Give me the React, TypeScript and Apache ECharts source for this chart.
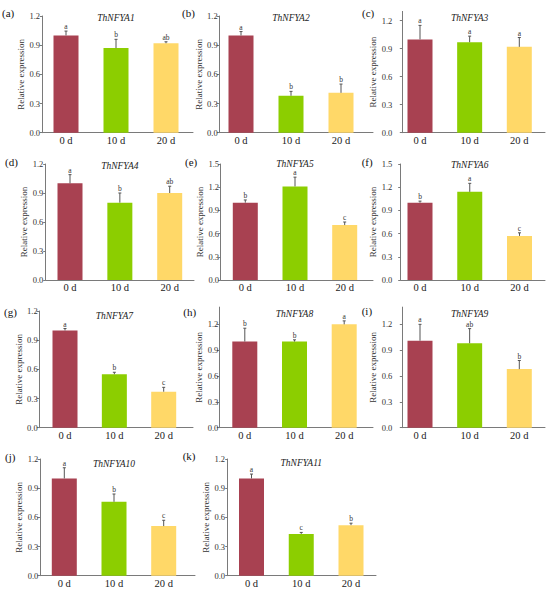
import React, { useEffect, useRef } from 'react';
import * as echarts from 'echarts';

const CATEGORIES = ['0 d', '10 d', '20 d'];
const BAR_COLORS = ['#A84151', '#8CCE00', '#FFD868'];
const GENES = ['ThNFYA1', 'ThNFYA2', 'ThNFYA3', 'ThNFYA4', 'ThNFYA5', 'ThNFYA6', 'ThNFYA7', 'ThNFYA8', 'ThNFYA9', 'ThNFYA10', 'ThNFYA11'];
const PANEL_TAGS = ['(a)', '(b)', '(c)', '(d)', '(e)', '(f)', '(g)', '(h)', '(i)', '(j)', '(k)'];
const MEANS = [
  [1.0, 0.87, 0.92],
  [1.0, 0.38, 0.41],
  [1.0, 0.97, 0.92],
  [1.0, 0.8, 0.9],
  [1.0, 1.21, 0.71],
  [1.0, 1.14, 0.57],
  [1.0, 0.55, 0.37],
  [1.0, 1.0, 1.2],
  [1.01, 0.98, 0.68],
  [1.0, 0.76, 0.51],
  [1.0, 0.43, 0.52],
];
const ERRORS = [
  [0.045, 0.09, 0.015],
  [0.04, 0.045, 0.09],
  [0.15, 0.065, 0.1],
  [0.09, 0.1, 0.07],
  [0.035, 0.12, 0.04],
  [0.02, 0.11, 0.04],
  [0.02, 0.02, 0.045],
  [0.155, 0.02, 0.04],
  [0.19, 0.17, 0.1],
  [0.11, 0.08, 0.06],
  [0.045, 0.015, 0.02],
];
const LETTERS = [
  ['a', 'b', 'ab'],
  ['a', 'b', 'b'],
  ['a', 'a', 'a'],
  ['a', 'b', 'ab'],
  ['b', 'a', 'c'],
  ['b', 'a', 'c'],
  ['a', 'b', 'c'],
  ['b', 'b', 'a'],
  ['a', 'ab', 'b'],
  ['a', 'b', 'c'],
  ['a', 'c', 'b'],
];
const Y_MAX = [1.2, 1.2, 1.3, 1.2, 1.5, 1.5, 1.2, 1.4, 1.4, 1.2, 1.2];
const Y_TICKS_12 = [0, 0.3, 0.6, 0.9, 1.2];
const Y_TICKS_15 = [0, 0.3, 0.6, 0.9, 1.2, 1.5];

// [axisLeft, plotTop, plotBottom, axisRight, firstCenter, lastCenter, nameGap, labelMargin, tagX, tagY, titleY]
const LAYOUT = [
  [42.3, 16, 132.7, 193, 66, 166, 13, 2.3, 2, 12.5, 18.3],
  [219.3, 16, 132.7, 373, 241, 341, 16, 1.6, 182, 12.5, 18.3],
  [402.3, 11.4, 132.7, 545, 420, 519.3, 20, 10, 362, 12.5, 18.3],
  [45.7, 164, 280, 194, 70, 169.7, 14, 2.4, 5, 162.3, 165.7],
  [220.7, 164, 280, 373, 245.3, 344.7, 13, 1.7, 185, 161.7, 164.3],
  [400.7, 164, 280, 545, 420, 519.5, 18, 8.4, 361.7, 161.7, 164.8],
  [39.3, 311, 427.7, 193, 65, 163.7, 13, 1.6, 4, 312.3, 315.7],
  [219.3, 307.1, 427.7, 373, 244.8, 344.2, 12, 1, 183.3, 311.7, 314.3],
  [402.3, 307.1, 427.7, 545, 420, 519.3, 20, 10, 361.7, 311, 314.3],
  [40, 459, 575.7, 195, 64.3, 163.7, 13, 1.7, 5, 456.7, 464],
  [227.7, 459, 575.7, 376, 251.5, 351, 13, 2.7, 182.7, 456, 463.3],
];

const FONT = 'Liberation Serif';
const AXIS_COLOR = '#7a7a7a';
const TEXT_COLOR = '#222';

function buildOption() {
  const grid: any[] = [];
  const xAxis: any[] = [];
  const yAxis: any[] = [];
  const series: any[] = [];
  const graphic: any[] = [];

  GENES.forEach((gene, p) => {
    const [left, top, bottom, right, c0, c2, nameGap, labelMargin, tagX, tagY, titleY] = LAYOUT[p];
    const step = (c2 - c0) / 2;
    grid.push({ left, top, width: right - left, height: bottom - top, containLabel: false });
    xAxis.push({
      type: 'value',
      gridIndex: p,
      min: -(c0 - left) / step,
      max: 2 + (right - c2) / step,
      axisLine: { show: true, onZero: false, lineStyle: { color: AXIS_COLOR, width: 1 } },
      axisTick: { show: false },
      splitLine: { show: false },
      axisLabel: {
        customValues: [0, 1, 2],
        formatter: (v: number) => CATEGORIES[Math.round(v)] ?? '',
        fontFamily: FONT,
        fontSize: 10.5,
        color: TEXT_COLOR,
        margin: 2,
      },
    });
    const ticks = Y_MAX[p] >= 1.5 ? Y_TICKS_15 : Y_TICKS_12;
    yAxis.push({
      type: 'value',
      gridIndex: p,
      min: 0,
      max: Y_MAX[p],
      interval: 0.3,
      name: 'Relative expression',
      nameLocation: 'middle',
      nameGap,
      nameTextStyle: { fontFamily: FONT, fontSize: 9, color: '#333' },
      axisLine: { show: true, onZero: false, lineStyle: { color: AXIS_COLOR, width: 1 } },
      axisTick: { show: true, length: 2.5, customValues: ticks, lineStyle: { color: AXIS_COLOR } },
      splitLine: { show: false },
      axisLabel: {
        customValues: ticks,
        formatter: (v: number) => v.toFixed(1),
        fontFamily: FONT,
        fontSize: 8.5,
        color: '#333',
        margin: labelMargin,
      },
    });
    series.push({
      type: 'bar',
      xAxisIndex: p,
      yAxisIndex: p,
      barWidth: 25,
      data: MEANS[p].map((m, i) => ({ value: [i, m], itemStyle: { color: BAR_COLORS[i] } })),
    });
    series.push({
      type: 'custom',
      xAxisIndex: p,
      yAxisIndex: p,
      z: 5,
      encode: { x: 0, y: 1 },
      data: MEANS[p].map((m, i) => [i, m, ERRORS[p][i]]),
      renderItem: (params: any, api: any) => {
        const x = api.value(0);
        const y = api.value(1);
        const e = api.value(2);
        const base = api.coord([x, y]);
        const tp = api.coord([x, y + e]);
        return {
          type: 'group',
          children: [
            {
              type: 'line',
              shape: { x1: base[0], y1: base[1], x2: tp[0], y2: tp[1] },
              style: { stroke: '#555', lineWidth: 1 },
            },
            {
              type: 'line',
              shape: { x1: tp[0] - 1.5, y1: tp[1], x2: tp[0] + 1.5, y2: tp[1] },
              style: { stroke: '#555', lineWidth: 1 },
            },
            {
              type: 'text',
              style: {
                text: LETTERS[p][params.dataIndex],
                x: tp[0],
                y: tp[1] - 0.5,
                align: 'center',
                verticalAlign: 'bottom',
                fontFamily: FONT,
                fontSize: 7.5,
                fill: '#333',
              },
            },
          ],
        };
      },
    });
    graphic.push({
      type: 'text',
      x: tagX,
      y: tagY,
      style: {
        text: PANEL_TAGS[p],
        fontFamily: FONT,
        fontSize: 11,
        fill: '#111',
        align: 'left',
        verticalAlign: 'middle',
      },
    });
    graphic.push({
      type: 'text',
      x: (c0 + c2) / 2,
      y: titleY,
      style: {
        text: gene,
        fontFamily: FONT,
        fontStyle: 'italic',
        fontSize: 9.5,
        fill: '#222',
        align: 'center',
        verticalAlign: 'middle',
      },
    });
  });

  return { animation: false, backgroundColor: '#fff', grid, xAxis, yAxis, series, graphic };
}

export default function App() {
  const ref = useRef<HTMLDivElement>(null);
  useEffect(() => {
    if (!ref.current) return;
    const chart = echarts.init(ref.current, undefined, { renderer: 'svg' });
    chart.setOption(buildOption() as any);
    return () => chart.dispose();
  }, []);
  return (
    <div
      ref={ref}
      style={{ position: 'absolute', left: 0, top: 0, width: 550, height: 591, background: '#fff' }}
    />
  );
}
